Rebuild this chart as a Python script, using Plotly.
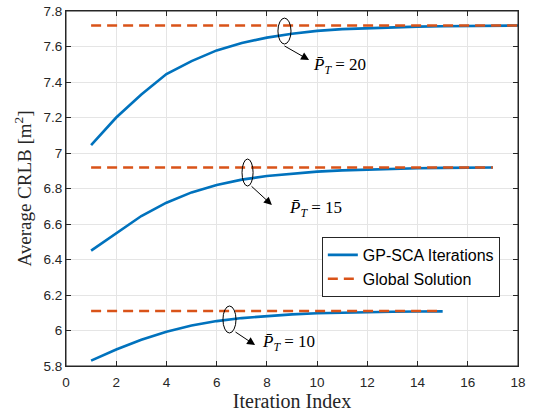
import plotly.graph_objects as go

it20 = list(range(1, 19))
crlb20 = [7.045, 7.20, 7.33, 7.445, 7.518, 7.578, 7.62, 7.65, 7.672, 7.688, 7.698, 7.704, 7.709, 7.712, 7.714, 7.716, 7.717, 7.718]
it15 = list(range(1, 18))
crlb15 = [6.45, 6.55, 6.645, 6.72, 6.778, 6.82, 6.85, 6.87, 6.884, 6.895, 6.902, 6.907, 6.911, 6.914, 6.916, 6.917, 6.918]
it10 = list(range(1, 16))
crlb10 = [5.83, 5.893, 5.948, 5.993, 6.028, 6.053, 6.07, 6.082, 6.091, 6.097, 6.101, 6.104, 6.106, 6.107, 6.108]
glob = {20: 7.718, 15: 6.918, 10: 6.11}
glob_x = {20: [1, 18], 15: [1, 17], 10: [1, 15]}

yticks = [5.8, 6.0, 6.2, 6.4, 6.6, 6.8, 7.0, 7.2, 7.4, 7.6, 7.8]
ytext = ["5.8", "6", "6.2", "6.4", "6.6", "6.8", "7", "7.2", "7.4", "7.6", "7.8"]
xticks = [0, 2, 4, 6, 8, 10, 12, 14, 16, 18]

blue = "#0072BD"
orange = "#D95319"

fig = go.Figure()
series = [(it20, crlb20, 20), (it15, crlb15, 15), (it10, crlb10, 10)]
for i, (x, y, p) in enumerate(series):
    fig.add_trace(go.Scatter(x=x, y=y, mode="lines", line=dict(color=blue, width=2.6),
                             name="GP-SCA Iterations", showlegend=(i == 0), legendgroup="a"))
for i, (x, y, p) in enumerate(series):
    fig.add_trace(go.Scatter(x=glob_x[p], y=[glob[p]] * 2, mode="lines",
                             line=dict(color=orange, width=2.6, dash="10px,6px"),
                             name="Global Solution", showlegend=(i == 0), legendgroup="b"))

ellipses = [(8.44, 8.96, 7.614, 7.76), (7.01, 7.45, 6.814, 6.966), (6.25, 6.77, 5.986, 6.138)]
for x0, x1, y0, y1 in ellipses:
    fig.add_shape(type="circle", xref="x", yref="y", x0=x0, x1=x1, y0=y0, y1=y1,
                  line=dict(color="black", width=1))

# axes box
fig.add_shape(type="rect", xref="x domain", yref="y domain", x0=0, x1=1, y0=0, y1=1,
              line=dict(color="#262626", width=1), layer="above")

arrows = [((8.64, 7.608), (9.68, 7.524)), ((7.33, 6.82), (8.20, 6.707)), ((6.69, 5.997), (7.53, 5.918))]
for (tx, ty), (hx, hy) in arrows:
    fig.add_annotation(x=hx, y=hy, ax=tx, ay=ty, xref="x", yref="y", axref="x", ayref="y",
                       text="", showarrow=True, arrowhead=2, arrowsize=1.6, arrowwidth=1,
                       arrowcolor="black")

labels = [(9.76, 7.49, "20"), (8.80, 6.685, "15"), (7.73, 5.93, "10")]
for lx, ly, v in labels:
    fig.add_annotation(x=lx, y=ly, xref="x", yref="y", xanchor="left", yanchor="middle",
                       text="<i>P\u0304</i><sub><i>T</i></sub> = " + v, showarrow=False,
                       font=dict(family="Liberation Serif", size=17, color="black"))

axis_common = dict(showline=True, linecolor="#262626", linewidth=1, mirror="ticks",
                   ticks="inside", ticklen=5, tickcolor="#262626", automargin=False,
                   showgrid=True, gridcolor="#E5E5E5", gridwidth=1, zeroline=False,
                   tickfont=dict(family="Liberation Sans", size=13.5, color="#262626"))

fig.update_layout(
    width=533, height=414,
    margin=dict(l=66, r=15, t=11, b=48),
    paper_bgcolor="white", plot_bgcolor="white",
    xaxis=dict(range=[0, 18], tickvals=xticks, ticklabelstandoff=4,
               title=dict(text="Iteration Index", standoff=2,
                          font=dict(family="Liberation Serif", size=20, color="#262626")),
               **axis_common),
    yaxis=dict(range=[5.8, 7.8], tickvals=yticks, ticktext=ytext,
               title=dict(text="Average CRLB [m<sup>2</sup>]", standoff=6,
                          font=dict(family="Liberation Serif", size=19, color="#262626")),
               **axis_common),
    legend=dict(x=0.566, y=0.3634, xanchor="left", yanchor="top",
                bgcolor="white", bordercolor="#262626", borderwidth=1,
                font=dict(family="Liberation Sans", size=16, color="black"),
                tracegroupgap=0),
    showlegend=True,
)

fig.write_html("out.html", config={"displayModeBar": False},
               post_script="document.body.style.margin='0';")
